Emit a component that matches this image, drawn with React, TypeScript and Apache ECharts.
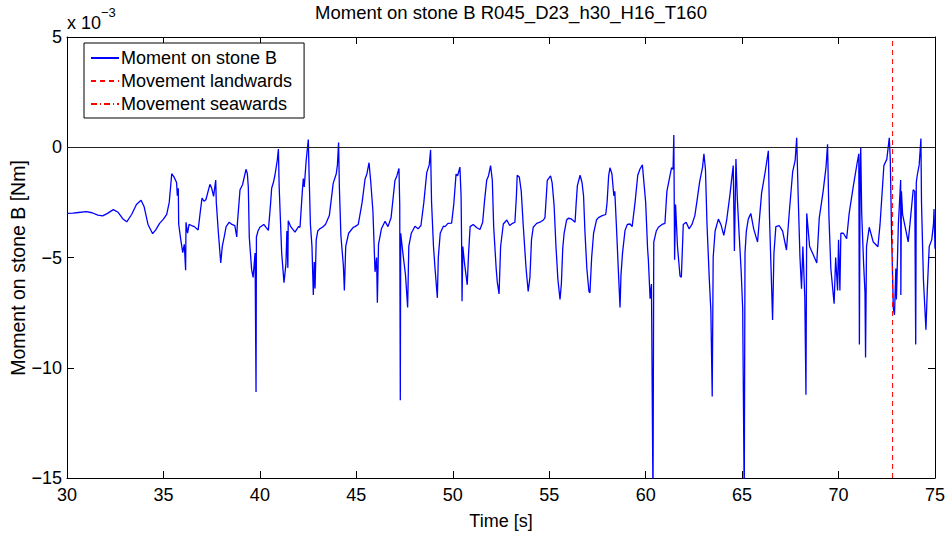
import React, { useEffect, useRef } from "react";
import * as echarts from "echarts";

// Time [s], moment on stone B [x 1e-3 Nm]
const momentB: [number, number][] = [
  [30.0, -3.0], [30.3, -2.99], [30.6, -2.96], [31.0, -2.92], [31.3, -2.97], [31.6, -3.08], [31.85, -3.11],
  [32.1, -3.0], [32.4, -2.83], [32.65, -2.95], [32.9, -3.25], [33.1, -3.38], [33.35, -3.05], [33.6, -2.6],
  [33.84, -2.4], [34.0, -2.7], [34.2, -3.5], [34.44, -3.92], [34.6, -3.75], [34.8, -3.45], [35.0, -3.26],
  [35.17, -3.04], [35.3, -2.5], [35.43, -1.2], [35.55, -1.35], [35.68, -1.6], [35.72, -2.2], [35.77, -1.86],
  [35.79, -3.48], [35.9, -4.2], [36.0, -4.78], [36.08, -4.4], [36.15, -5.58], [36.17, -3.4], [36.25, -3.9],
  [36.33, -3.5], [36.46, -3.55], [36.6, -3.6], [36.8, -3.75], [36.9, -3.0], [37.0, -2.3], [37.1, -2.45],
  [37.2, -2.38], [37.41, -1.68], [37.5, -1.85], [37.6, -2.23], [37.71, -1.49], [37.74, -2.5], [37.85, -3.9],
  [37.97, -5.25], [38.05, -4.5], [38.15, -4.07], [38.25, -3.6], [38.41, -3.4], [38.55, -3.5], [38.7, -3.55],
  [38.8, -4.07], [38.83, -3.5], [38.97, -1.93], [39.1, -1.7], [39.28, -1.0], [39.35, -1.2], [39.4, -1.8],
  [39.45, -4.07], [39.57, -5.54], [39.65, -5.9], [39.75, -4.8], [39.8, -11.1], [39.82, -4.07], [39.9, -3.8],
  [40.0, -3.63], [40.2, -3.5], [40.44, -3.77], [40.55, -2.6], [40.61, -1.86], [40.7, -1.6], [40.78, -1.27],
  [40.9, -0.6], [40.96, -0.08], [41.0, -1.8], [41.13, -4.81], [41.25, -6.14], [41.35, -5.3], [41.4, -3.8],
  [41.45, -5.47], [41.47, -3.33], [41.6, -3.6], [41.82, -3.85], [42.0, -3.6], [42.08, -3.63], [42.2, -2.0],
  [42.25, -1.42], [42.3, -1.8], [42.4, -0.6], [42.51, 0.35], [42.55, -1.2], [42.62, -3.5], [42.7, -4.5],
  [42.77, -6.7], [42.82, -5.2], [42.86, -6.4], [42.92, -4.2], [43.0, -3.8], [43.1, -3.7], [43.24, -3.63],
  [43.4, -3.5], [43.6, -3.1], [43.8, -1.64], [43.96, -1.2], [44.02, -0.8], [44.08, 0.21], [44.12, -1.8],
  [44.2, -4.0], [44.33, -5.4], [44.38, -6.5], [44.45, -4.5], [44.6, -3.9], [44.84, -3.63], [44.93, -3.6],
  [45.1, -3.5], [45.3, -2.5], [45.45, -1.45], [45.55, -1.2], [45.66, -0.7], [45.75, -1.6], [45.86, -2.9],
  [45.97, -5.65], [46.05, -5.0], [46.09, -7.05], [46.15, -4.4], [46.3, -3.7], [46.49, -3.36], [46.64, -3.6],
  [46.8, -3.2], [47.0, -1.52], [47.1, -1.3], [47.21, -0.96], [47.25, -2.6], [47.28, -11.47], [47.3, -3.9],
  [47.4, -4.7], [47.55, -5.8], [47.66, -7.27], [47.72, -4.5], [47.85, -3.9], [48.04, -3.58], [48.2, -3.7],
  [48.35, -3.55], [48.5, -2.5], [48.65, -1.15], [48.78, -0.8], [48.85, -0.12], [48.9, -2.5], [49.0, -4.5],
  [49.08, -5.5], [49.2, -6.83], [49.25, -5.0], [49.35, -3.9], [49.51, -3.58], [49.6, -3.6], [49.75, -3.45],
  [49.94, -3.44], [50.05, -2.6], [50.17, -1.22], [50.25, -1.3], [50.37, -0.9], [50.43, -2.2], [50.46, -4.5],
  [50.48, -6.98], [50.52, -4.5], [50.6, -5.2], [50.75, -6.24], [50.82, -4.8], [50.9, -3.6], [51.06, -3.5],
  [51.25, -3.65], [51.41, -3.73], [51.55, -3.4], [51.65, -2.4], [51.76, -1.49], [51.85, -1.3], [51.96, -0.83],
  [52.05, -1.5], [52.12, -3.6], [52.25, -5.5], [52.31, -6.14], [52.4, -6.65], [52.48, -4.5], [52.62, -3.48],
  [52.8, -3.3], [52.95, -3.55], [53.1, -3.45], [53.22, -3.4], [53.3, -2.2], [53.34, -1.27], [53.45, -1.35],
  [53.55, -2.0], [53.65, -3.5], [53.8, -5.5], [53.91, -6.54], [54.0, -5.9], [54.08, -4.2], [54.17, -3.63],
  [54.35, -3.45], [54.52, -3.4], [54.7, -3.3], [54.78, -3.19], [54.85, -2.2], [54.9, -1.5], [55.07, -1.3],
  [55.15, -1.6], [55.25, -2.6], [55.35, -4.5], [55.45, -6.0], [55.56, -6.9], [55.63, -6.2], [55.7, -4.6],
  [55.77, -3.92], [55.9, -3.3], [55.99, -3.22], [56.15, -3.25], [56.34, -3.4], [56.4, -2.5], [56.46, -1.74],
  [56.6, -1.27], [56.7, -1.6], [56.78, -2.2], [56.85, -3.8], [56.95, -5.5], [57.06, -6.54], [57.11, -6.6],
  [57.2, -5.0], [57.3, -3.9], [57.45, -3.3], [57.55, -3.19], [57.75, -3.1], [57.93, -3.05], [58.0, -2.5],
  [58.08, -1.3], [58.15, -0.93], [58.25, -1.2], [58.35, -2.2], [58.4, -2.0], [58.48, -3.5], [58.58, -5.5],
  [58.67, -7.27], [58.72, -5.8], [58.8, -4.8], [58.93, -3.77], [59.05, -3.5], [59.19, -3.48], [59.3, -3.6],
  [59.45, -2.5], [59.59, -1.27], [59.7, -1.0], [59.83, -0.8], [59.9, -1.5], [60.0, -2.5], [60.1, -4.6],
  [60.14, -5.1], [60.23, -6.87], [60.3, -6.2], [60.38, -16], [60.42, -4.3], [60.55, -3.8], [60.66, -3.63],
  [60.85, -3.5], [61.0, -3.45], [61.1, -2.0], [61.34, -0.93], [61.42, -1.0], [61.46, 0.55], [61.5, -5.1],
  [61.55, -2.6], [61.65, -4.5], [61.78, -5.84], [61.85, -5.9], [61.95, -3.5], [62.1, -3.4], [62.25, -3.7],
  [62.4, -3.5], [62.55, -3.1], [62.65, -2.5], [62.8, -1.56], [62.95, -0.9], [63.02, -0.3], [63.1, -1.0],
  [63.18, -3.5], [63.3, -6.0], [63.38, -7.42], [63.45, -11.3], [63.5, -5.0], [63.6, -3.8], [63.77, -3.26],
  [63.9, -3.5], [64.05, -4.0], [64.2, -3.3], [64.37, -2.15], [64.45, -1.5], [64.54, -0.83], [64.6, -4.7],
  [64.68, -0.53], [64.75, -2.3], [64.85, -4.0], [64.95, -5.6], [65.03, -7.31], [65.11, -16], [65.15, -4.8],
  [65.22, -3.8], [65.32, -3.26], [65.45, -3.0], [65.6, -3.7], [65.8, -4.3], [66.01, -2.08], [66.2, -1.1],
  [66.36, -0.16], [66.42, -3.2], [66.5, -5.5], [66.58, -7.83], [66.65, -4.8], [66.75, -3.6], [66.92, -3.55],
  [67.1, -3.8], [67.3, -4.66], [67.45, -2.9], [67.62, -1.12], [67.75, -0.6], [67.83, 0.43], [67.9, -2.0],
  [68.0, -5.0], [68.08, -6.42], [68.15, -4.5], [68.25, -6.8], [68.31, -11.22], [68.35, -3.0], [68.5, -4.5],
  [68.7, -4.9], [68.87, -5.25], [69.0, -3.2], [69.2, -2.0], [69.35, -0.9], [69.43, 0.13], [69.5, -3.1],
  [69.6, -5.5], [69.77, -7.1], [69.85, -5.0], [69.95, -6.5], [70.0, -4.2], [70.07, -6.5], [70.12, -3.9],
  [70.25, -3.9], [70.42, -4.15], [70.55, -3.0], [70.77, -1.74], [70.97, -0.68], [71.05, -0.3], [71.08, -8.94],
  [71.12, -1.0], [71.15, -0.01], [71.2, -3.0], [71.3, -5.3], [71.37, -6.58], [71.4, -9.53], [71.45, -4.5],
  [71.59, -3.63], [71.8, -4.3], [72.04, -4.51], [72.15, -3.5], [72.35, -0.83], [72.5, -0.55], [72.6, 0.2],
  [72.63, 0.43], [72.68, -0.5], [72.75, -4.0], [72.84, -7.31], [72.9, -7.6], [72.97, -5.5], [73.0, -6.9],
  [73.1, -3.5], [73.22, -1.49], [73.23, -6.7], [73.26, -2.0], [73.32, -3.04], [73.45, -3.6], [73.61, -4.29],
  [73.7, -3.5], [73.87, -1.93], [73.95, -2.0], [74.0, -8.94], [74.03, -1.6], [74.08, -1.27], [74.18, -0.8],
  [74.27, 0.4], [74.3, -2.5], [74.4, -6.0], [74.53, -8.27], [74.6, -6.5], [74.7, -4.5], [74.83, -4.2],
  [74.92, -3.5], [74.95, -2.8], [75.0, -4.6],
];

const landwardsTimes: number[] = [72.8];
const seawardsTimes: number[] = [];
const zeroLevel: number[] = [0];

const xRange = [30, 75];
const yRange = [-15, 5];
const tickStep = 5;

const titleText = "Moment on stone B R045_D23_h30_H16_T160";
const xName = "Time [s]";
const yName = "Moment on stone B [Nm]";
const seriesNames = ["Moment on stone B", "Movement landwards", "Movement seawards"];

const FONT = "Liberation Sans, Arial, Helvetica, sans-serif";

export default function App() {
  const ref = useRef<HTMLDivElement>(null);
  useEffect(() => {
    if (!ref.current) return;
    const chart = echarts.init(ref.current, null, { renderer: "svg" });
    const fmt = (v: number) => (v < 0 ? "\u2212" + Math.abs(v) : String(v));
    const baseAxis = {
      interval: tickStep,
      axisLine: { show: true, onZero: false, lineStyle: { color: "#000", width: 1 } },
      axisTick: { show: true, inside: true, length: 7, lineStyle: { color: "#000", width: 1 } },
      splitLine: { show: false },
    };
    const option: any = {
      animation: false,
      backgroundColor: "#fff",
      textStyle: { fontFamily: FONT },
      grid: { left: 67, right: 14, top: 37, bottom: 47, containLabel: false },
      graphic: [
        {
          type: "text",
          x: 511,
          y: 3,
          style: { text: titleText, fontSize: 18.5, fontFamily: FONT, fill: "#000", align: "center", verticalAlign: "top" },
        },
        {
          type: "text",
          x: 67,
          y: 14,
          style: { text: "x 10", fontSize: 18, fontFamily: FONT, fill: "#000", align: "left", verticalAlign: "top" },
        },
        {
          type: "text",
          x: 101,
          y: 6,
          style: { text: "\u22123", fontSize: 13, fontFamily: FONT, fill: "#000", align: "left", verticalAlign: "top" },
        },
        {
          type: "text",
          x: 18,
          y: 268,
          rotation: Math.PI / 2,
          style: { text: yName, fontSize: 19.5, fontFamily: FONT, fill: "#000", align: "center", verticalAlign: "middle" },
        },
      ],
      legend: {
        show: true,
        orient: "vertical",
        left: 84,
        top: 43,
        backgroundColor: "#fff",
        borderColor: "#000",
        borderWidth: 1,
        borderRadius: 0,
        padding: [6, 12, 5, 6],
        itemWidth: 28,
        itemHeight: 19,
        itemGap: 5,
        itemStyle: { opacity: 0 },
        textStyle: { fontSize: 18, fontFamily: FONT, color: "#000", padding: [0, 0, 0, -3] },
        data: seriesNames,
      },
      xAxis: [
        {
          ...baseAxis,
          type: "value",
          position: "bottom",
          min: xRange[0],
          max: xRange[1],
          name: xName,
          nameLocation: "middle",
          nameGap: 34,
          nameTextStyle: { fontSize: 18, fontFamily: FONT, color: "#000" },
          axisLabel: { show: true, fontSize: 18, fontFamily: FONT, color: "#000", margin: 8 },
        },
        {
          ...baseAxis,
          type: "value",
          position: "top",
          min: xRange[0],
          max: xRange[1],
          axisLabel: { show: false },
        },
      ],
      yAxis: [
        {
          ...baseAxis,
          type: "value",
          position: "left",
          min: yRange[0],
          max: yRange[1],
          axisLabel: { show: true, fontSize: 18, fontFamily: FONT, color: "#000", margin: 5, formatter: fmt },
        },
        {
          ...baseAxis,
          type: "value",
          position: "right",
          min: yRange[0],
          max: yRange[1],
          axisLabel: { show: false },
        },
      ],
      series: [
        {
          name: seriesNames[0],
          type: "line",
          data: momentB,
          symbol: "none",
          showSymbol: false,
          clip: true,
          color: "#0000ff",
          lineStyle: { color: "#0000ff", width: 1.3 },
          markLine: {
            silent: true,
            symbol: ["none", "none"],
            label: { show: false },
            lineStyle: { color: "#222", type: "solid", width: 1 },
            data: zeroLevel.map((v) => ({ yAxis: v })),
          },
          z: 3,
        },
        {
          name: seriesNames[1],
          type: "line",
          symbol: "none",
          color: "#ff0000",
          lineStyle: { color: "#ff0000", width: 1, type: [5, 4] },
          data: landwardsTimes.flatMap((t) => [[t, yRange[0]], [t, yRange[1]]]),
          z: 4,
        },
        {
          name: seriesNames[2],
          type: "line",
          symbol: "none",
          color: "#ff0000",
          lineStyle: { color: "#ff0000", width: 1, type: [6, 3, 1, 3] },
          data: seawardsTimes.flatMap((t) => [[t, yRange[0]], [t, yRange[1]]]),
          z: 4,
        },
      ],
    };
    chart.setOption(option);
    return () => chart.dispose();
  }, []);
  return (
    <div
      ref={ref}
      style={{ position: "fixed", left: 0, top: 0, width: 949, height: 535, background: "#fff" }}
    />
  );
}
